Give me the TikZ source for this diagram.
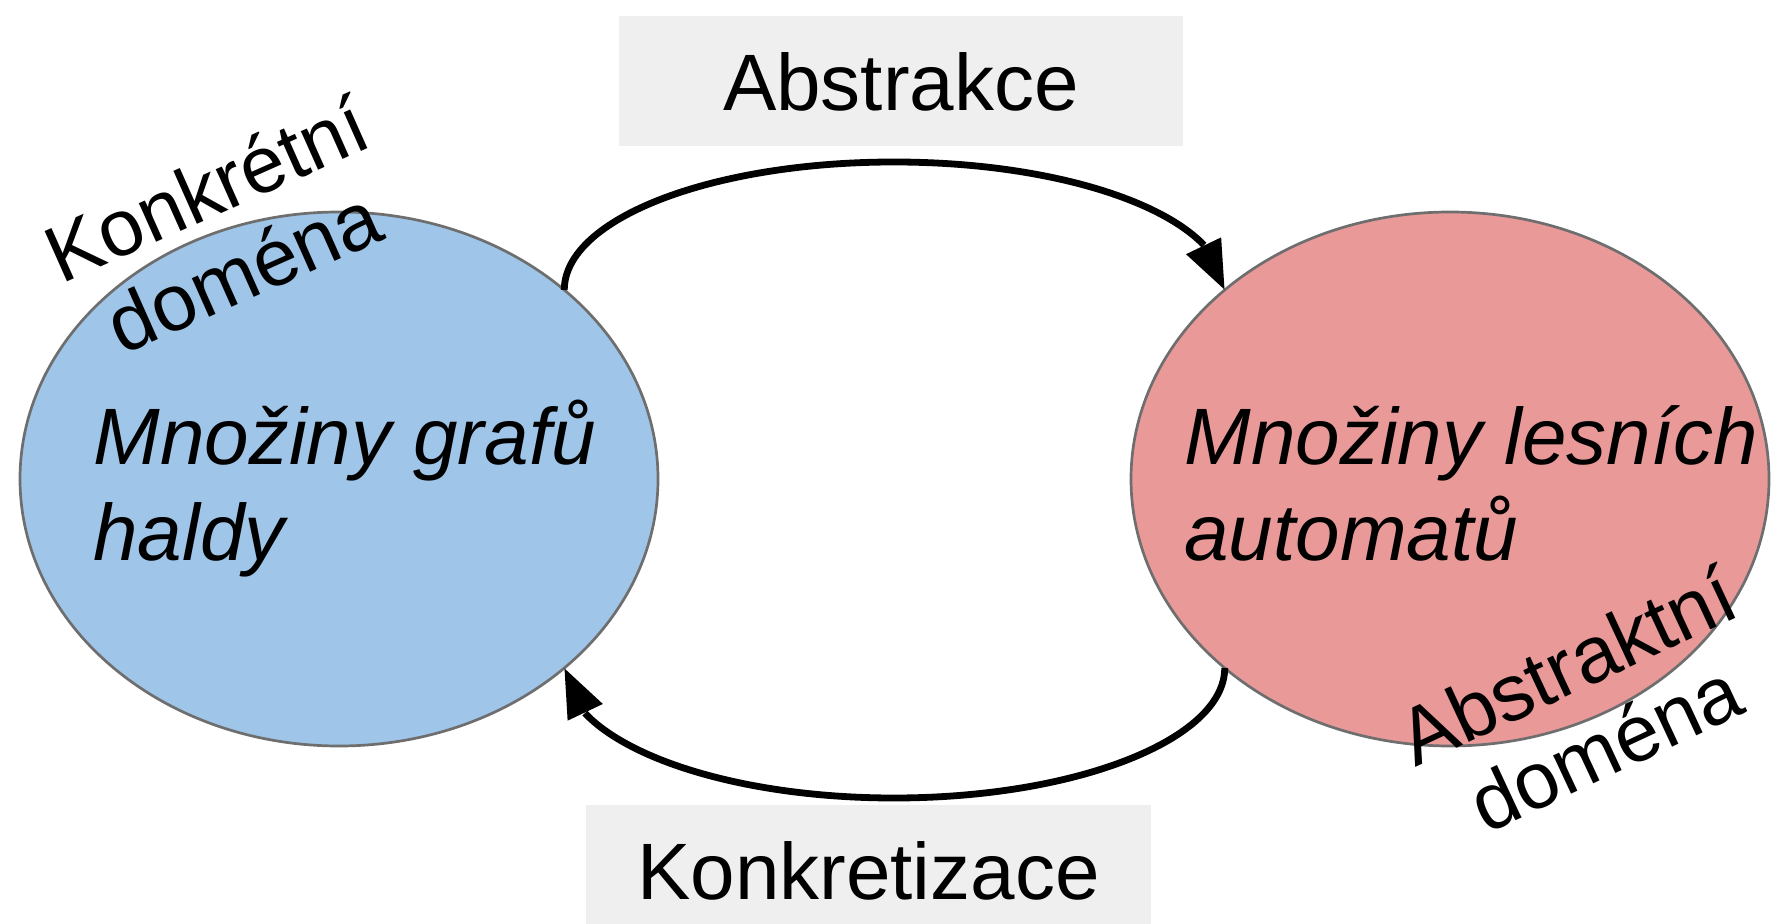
\documentclass[tikz,border=0pt]{standalone}
\usepackage{fontspec}
\setmainfont{Liberation Sans}
\usetikzlibrary{arrows.meta,bending,shapes.geometric}
\definecolor{blueFill}{HTML}{9FC5E8}
\definecolor{redFill}{HTML}{EA9999}
\definecolor{edgeGray}{HTML}{6E6E6E}
\definecolor{boxGray}{HTML}{EFEFEF}
\begin{document}
\begin{tikzpicture}[x=0.5pt,y=-0.5pt,
  dom/.style={ellipse, draw=edgeGray, line width=1.35pt, minimum width=319pt, minimum height=267pt, inner sep=0pt, outer sep=0pt},
  lbl/.style={fill=boxGray, minimum width=282pt, minimum height=65pt, inner sep=0pt, font=\fontsize{40}{46}\selectfont},
  intext/.style={font=\fontsize{40}{48}\selectfont\itshape, align=left, inner sep=0pt, anchor=base west},
  side/.style={font=\fontsize{40}{45}\selectfont, align=center, inner sep=0pt, anchor=base},
  conn/.style={line width=3.4pt, -{Triangle[length=24.5pt,width=18.5pt,flex]}}]
\useasboundingbox (0,0) rectangle (1772,924);
\clip (0,0) rectangle (1772,924);
\node[dom, fill=blueFill] (L) at (339,479) {};
\node[dom, fill=redFill] (R) at (1450,479) {};
\node[lbl] (abs) at (901,81.5) {Abstrakce};
\node[lbl, minimum width=282.5pt, minimum height=66pt] (kon) at (868.5,871) {Konkretizace};
\coordinate (top) at (894,162);
\coordinate (bot) at (894,798);
\draw[conn] (L.40) .. controls +(0,-71) and +(-183,0) .. (top) .. controls +(183,0) and +(0,-71) .. (R.140);
\draw[conn] (R.220) .. controls +(0,71) and +(183,0) .. (bot) .. controls +(-183,0) and +(0,71) .. (L.320);
\node[intext] (Lt) at (93,561) {Množiny grafů\\haldy};
\node[intext] (Rt) at (1184,561) {Množiny lesních\\automatů};
\node[side, rotate=24] (Lside) at (255,297) {Konkrétní\\doména};
\node[side, rotate=25] (Rside) at (1617,773) {Abstraktní\\doména};
\end{tikzpicture}
\end{document}
